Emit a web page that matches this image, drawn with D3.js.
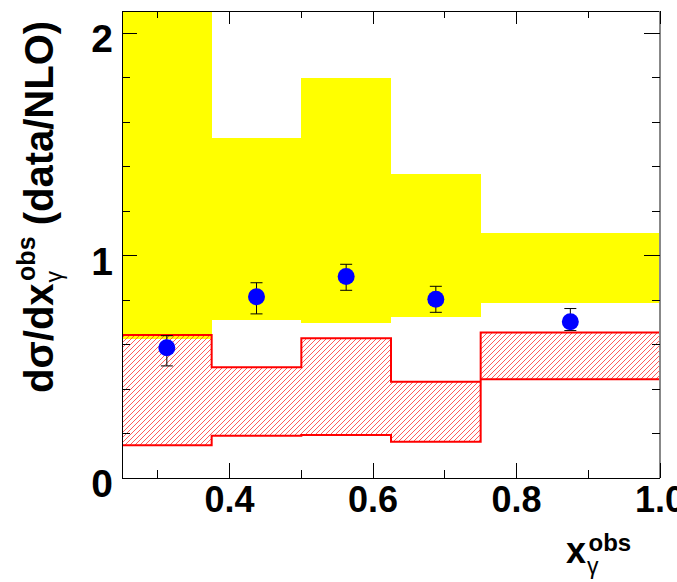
<!DOCTYPE html>
<html><head><meta charset="utf-8">
<script src="https://cdn.jsdelivr.net/npm/d3@7"></script>
<style>html,body{margin:0;padding:0;background:#fff;}svg{display:block;font-family:"Liberation Sans",Arial,sans-serif;font-weight:bold;}</style>
</head><body>
<svg id="c" width="677" height="582"></svg>
<script>
// ---- data ----
const binEdges  = [0.25, 0.375, 0.5, 0.625, 0.75, 1.0];
const bandHigh  = [2.3, 1.53, 1.80, 1.367, 1.10];
const bandLow   = [0.625, 0.711, 0.699, 0.723, 0.789];
const hatchHigh = [0.643, 0.498, 0.628, 0.433, 0.654];
const hatchLow  = [0.147, 0.190, 0.193, 0.163, 0.444];
const xPoints   = [0.3125, 0.4375, 0.5625, 0.6875, 0.875];
const yPoints   = [0.586, 0.815, 0.906, 0.804, 0.703];
const errUp     = [0.054, 0.063, 0.055, 0.058, 0.059];
const errDown   = [0.082, 0.077, 0.062, 0.059, 0.040];
const xMajor    = [0.4, 0.6, 0.8, 1.0];
const xMinor    = [0.3, 0.5, 0.7, 0.9];
const xTickLabels = ["0.4", "0.6", "0.8", "1.0"];
const yMajor    = [0, 1, 2];
const yMinor    = [0.2, 0.4, 0.6, 0.8, 1.2, 1.4, 1.6, 1.8];
const yTickLabels = ["0", "1", "2"];

const L = 122, R = 660, T = 11, B = 478;
const svg = d3.select("#c");
const x = d3.scaleLinear().domain([0.25, 1.0]).range([L, R]);
const y = d3.scaleLinear().domain([0, 2.1]).range([B, T]);

const defs = svg.append("defs");
defs.append("clipPath").attr("id", "clip").append("rect")
  .attr("x", L).attr("y", T).attr("width", R - L).attr("height", B - T);
const pat = defs.append("pattern").attr("id", "hatch").attr("patternUnits", "userSpaceOnUse")
  .attr("width", 5).attr("height", 5);
pat.append("path").attr("d", "M0,5 L5,0 M-1,1 L1,-1 M4,6 L6,4")
  .attr("stroke", "#ff3030").attr("stroke-width", 0.8).attr("fill", "none");

const plot = svg.append("g").attr("clip-path", "url(#clip)");

// yellow band
const bins = d3.range(bandHigh.length);
plot.selectAll("rect.band").data(bins).join("rect").attr("class", "band")
  .attr("x", i => x(binEdges[i])).attr("width", i => x(binEdges[i + 1]) - x(binEdges[i]))
  .attr("y", i => y(bandHigh[i])).attr("height", i => y(bandLow[i]) - y(bandHigh[i]))
  .attr("fill", "#ffff00").attr("shape-rendering", "crispEdges");

// hatched region
const pts = [];
bins.forEach(i => { pts.push([binEdges[i], hatchHigh[i]]); pts.push([binEdges[i + 1], hatchHigh[i]]); });
for (let i = bins.length - 1; i >= 0; i--) { pts.push([binEdges[i + 1], hatchLow[i]]); pts.push([binEdges[i], hatchLow[i]]); }
const line = d3.line().x(d => x(d[0])).y(d => y(d[1]));
plot.append("path").attr("d", line(pts) + "Z")
  .attr("fill", "url(#hatch)").attr("stroke", "#ff0000").attr("stroke-width", 2);

// error bars and points
const eb = plot.append("g").attr("stroke", "#000").attr("stroke-width", 1);
bins.forEach(i => {
  const cx = x(xPoints[i]);
  eb.append("line").attr("x1", cx).attr("x2", cx).attr("y1", y(yPoints[i] + errUp[i])).attr("y2", y(yPoints[i] - errDown[i]));
  [yPoints[i] + errUp[i], yPoints[i] - errDown[i]].forEach(v => {
    eb.append("line").attr("x1", cx - 6).attr("x2", cx + 6).attr("y1", y(v)).attr("y2", y(v));
  });
});
plot.selectAll("circle.pt").data(bins).join("circle").attr("class", "pt")
  .attr("cx", i => x(xPoints[i])).attr("cy", i => y(yPoints[i])).attr("r", 8.5).attr("fill", "#0000ff");

// frame & ticks
const fr = svg.append("g").attr("stroke", "#000").attr("stroke-width", 1).attr("shape-rendering", "crispEdges");
fr.append("line").attr("x1", L).attr("x2", R).attr("y1", T).attr("y2", T);
fr.append("line").attr("x1", L).attr("x2", R).attr("y1", B).attr("y2", B);
fr.append("line").attr("x1", L).attr("x2", L).attr("y1", T).attr("y2", B);
fr.append("line").attr("x1", R).attr("x2", R).attr("y1", T).attr("y2", B).attr("stroke", "#888").attr("stroke-width", 2);
xMajor.forEach(v => {
  fr.append("line").attr("x1", x(v)).attr("x2", x(v)).attr("y1", B).attr("y2", B - 15);
  fr.append("line").attr("x1", x(v)).attr("x2", x(v)).attr("y1", T).attr("y2", T + 13);
});
xMinor.forEach(v => {
  fr.append("line").attr("x1", x(v)).attr("x2", x(v)).attr("y1", B).attr("y2", B - 8);
  fr.append("line").attr("x1", x(v)).attr("x2", x(v)).attr("y1", T).attr("y2", T + 7);
});
yMajor.forEach(v => {
  fr.append("line").attr("x1", L).attr("x2", L + 15).attr("y1", y(v)).attr("y2", y(v));
  fr.append("line").attr("x1", R).attr("x2", R - 16).attr("y1", y(v)).attr("y2", y(v));
});
yMinor.forEach(v => {
  fr.append("line").attr("x1", L).attr("x2", L + 8).attr("y1", y(v)).attr("y2", y(v));
  fr.append("line").attr("x1", R).attr("x2", R - 8).attr("y1", y(v)).attr("y2", y(v));
});

// tick labels
svg.selectAll("text.xl").data(xMajor).join("text").attr("class", "xl")
  .attr("x", d => x(d)).attr("y", 512).attr("text-anchor", "middle")
  .attr("font-size", 36).text((d, i) => xTickLabels[i]);
svg.selectAll("text.yl").data(yMajor).join("text").attr("class", "yl")
  .attr("x", 113).attr("y", d => y(d) + 19).attr("text-anchor", "end")
  .attr("font-size", 39).text((d, i) => yTickLabels[i]);

// x title
const xt = svg.append("text").attr("x", 566).attr("y", 563).attr("font-size", 36);
xt.append("tspan").text("x");
xt.append("tspan").attr("font-size", 23).attr("font-weight", "normal").attr("dx", 1).attr("dy", 11).text("γ");
xt.append("tspan").attr("font-size", 24).attr("dx", -10).attr("dy", -23).text("obs");

// y title
const yt = svg.append("text").attr("transform", "rotate(-90)").attr("x", -393).attr("y", 53).attr("font-size", 40);
yt.append("tspan").text("dσ/dx");
yt.append("tspan").attr("font-size", 23).attr("font-weight", "normal").attr("dx", 1).attr("dy", 9).text("γ");
yt.append("tspan").attr("font-size", 25).attr("dx", -10).attr("dy", -27).text("obs");
yt.append("tspan").attr("dy", 18).text(" (data/NLO)");
</script>
</body></html>
